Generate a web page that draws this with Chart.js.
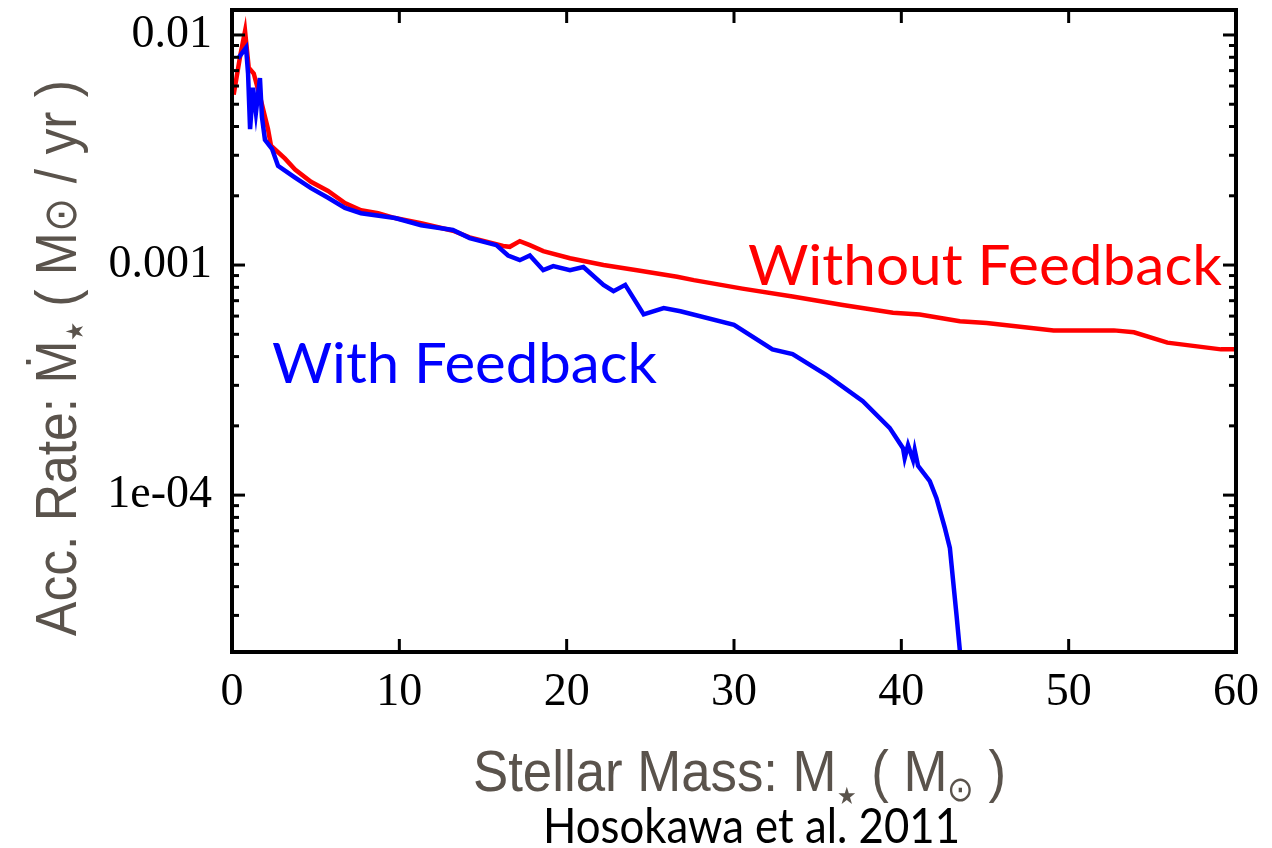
<!DOCTYPE html>
<html>
<head>
<meta charset="utf-8">
<script src="https://cdn.jsdelivr.net/npm/chart.js@4.4.1/dist/chart.umd.min.js"></script>
<style>
  html, body { margin: 0; padding: 0; background: #fff; }
  #wrap { width: 1272px; height: 848px; }
</style>
</head>
<body>
<div id="wrap"><canvas id="accChart" width="1272" height="848"></canvas></div>
<script>
    const fbMass = [
        0.36, 0.84, 0.96, 1.08, 1.26, 1.43, 1.67, 1.79, 1.97, 2.39,
        2.75, 3.77, 4.72, 5.74, 6.75, 7.71, 9.74, 11.3, 13.2, 14.2,
        15.8, 16.5, 17.2, 17.8, 18.6, 19.2, 20.2, 21.0, 22.2, 22.8,
        23.5, 24.6, 25.8, 26.8, 30.0, 32.3, 33.5, 35.6, 37.7, 39.3,
        40.1, 40.2, 40.4, 40.7, 40.8, 41.0, 41.7, 42.1, 42.6, 42.9,
        43.1, 43.3, 43.5
    ];
    const fbRate = [
        0.0079, 0.0088, 0.0068, 0.0039, 0.0059, 0.0046, 0.0065, 0.0044, 0.0035, 0.0032,
        0.0027, 0.0024, 0.00216, 0.00196, 0.00177, 0.00168, 0.0016, 0.00149, 0.00142, 0.00131,
        0.00122, 0.0011, 0.00105, 0.0011, 0.00095, 0.00099, 0.00095, 0.00098, 0.00082, 0.00077,
        0.00082, 0.00061, 0.00065, 0.00063, 0.00055, 0.00043, 0.00041, 0.00033, 0.000256, 0.000196,
        0.00016, 0.000145, 0.000165, 0.000142, 0.000157, 0.000134, 0.000115, 0.000097, 0.000072, 0.000059,
        0.000042, 0.00003, 0.000021
    ];
    const noFbMass = [
        0.1, 0.5, 0.78, 1.0, 1.3, 1.73, 2.15, 2.33, 3.17, 3.77,
        4.72, 5.74, 6.75, 7.71, 8.73, 9.74, 11.3, 13.2, 14.2, 16.2,
        16.6, 17.2, 17.8, 18.6, 20.2, 22.2, 24.2, 26.6, 27.6, 30.5,
        33.5, 36.5, 39.5, 41.1, 43.5, 45.1, 49.1, 52.7, 53.9, 55.9,
        59.1, 60
    ];
    const noFbRate = [
        0.0055, 0.0082, 0.0104, 0.0072, 0.0068, 0.0052, 0.0039, 0.0033, 0.0029, 0.0026,
        0.0023, 0.0021, 0.00186, 0.00173, 0.00168, 0.0016, 0.00152, 0.00141, 0.00132, 0.00121,
        0.0012, 0.00127, 0.00122, 0.00115, 0.00107, 0.001, 0.00095, 0.00089, 0.00086, 0.00079,
        0.00073, 0.00067, 0.00062, 0.00061, 0.00057, 0.00056, 0.00052, 0.00052, 0.00051, 0.00046,
        0.00043, 0.00043
    ];

    const xTicks = [0, 10, 20, 30, 40, 50, 60];
    const yTickVals = [0.01, 0.001, 0.0001];
    const yTickLabels = ['0.01', '0.001', '1e-04'];

    const toPoints = (xs, ys) => xs.map((x, i) => ({ x: x, y: ys[i] }));

    // draw a row of text pieces squeezed to a given width (condensed look)
    function drawPieces(ctx, pieces, size, family, targetW) {
        let w = 0;
        pieces.forEach(p => {
            ctx.font = (size * (p.s || 1)) + 'px ' + family;
            p.w = ctx.measureText(p.t).width;
            w += p.w;
        });
        const k = targetW / w;
        ctx.scale(k, 1);
        let x = 0;
        pieces.forEach(p => {
            ctx.font = (size * (p.s || 1)) + 'px ' + family;
            ctx.fillText(p.t, x, (p.dy || 0) * size);
            x += p.w;
        });
    }

    const framePlugin = {
        id: 'frame',
        afterDatasetsDraw(chart) {
            const { ctx, chartArea: a, scales: { x, y } } = chart;
            ctx.save();
            ctx.strokeStyle = '#000';
            ctx.lineCap = 'butt';
            ctx.lineWidth = 3;
            const seg = (x1, y1, x2, y2) => { ctx.beginPath(); ctx.moveTo(x1, y1); ctx.lineTo(x2, y2); ctx.stroke(); };
            // x ticks, inward on bottom and top
            xTicks.slice(1, -1).forEach(v => {
                const px = x.getPixelForValue(v);
                seg(px, a.bottom, px, a.bottom - 13);
                seg(px, a.top, px, a.top + 13);
            });
            // y ticks (log decades + minors), inward on left and right
            for (let e = -5; e <= -2; e++) {
                for (let m = 1; m <= 9; m++) {
                    const v = m * Math.pow(10, e);
                    if (v < y.min || v > y.max) continue;
                    const py = y.getPixelForValue(v);
                    const len = m === 1 ? 13 : 7;
                    seg(a.left, py, a.left + len, py);
                    seg(a.right, py, a.right - len, py);
                }
            }
            ctx.lineWidth = 4;
            ctx.strokeRect(a.left, a.top, a.right - a.left, a.bottom - a.top);
            ctx.restore();
        },
        afterDraw(chart) {
            const ctx = chart.ctx;
            const titleFont = '"Liberation Sans", Arial, sans-serif';
            ctx.save();
            ctx.fillStyle = '#5a534c';
            ctx.textBaseline = 'alphabetic';
            ctx.textAlign = 'left';

            // y axis title
            ctx.save();
            ctx.translate(76, 636);
            ctx.rotate(-Math.PI / 2);
            drawPieces(ctx, [
                { t: 'Acc. Rate: ' },
                { t: 'Ṁ' },
                { t: '★', s: 0.42, dy: 0.12 },
                { t: ' ( M' },
                { t: '⊙', s: 0.8 },
                { t: ' / yr )' }
            ], 58, titleFont, 556);
            ctx.restore();

            // x axis title
            ctx.save();
            ctx.translate(473, 791);
            drawPieces(ctx, [
                { t: 'Stellar Mass: M' },
                { t: '★', s: 0.42, dy: 0.22 },
                { t: ' ( M' },
                { t: '⊙', s: 0.6, dy: 0.18 },
                { t: ' )' }
            ], 58, titleFont, 533);
            ctx.restore();

            // annotations
            const noteFont = 'Lato, "Open Sans", sans-serif';
            ctx.save();
            ctx.fillStyle = '#ff0000';
            ctx.translate(748, 285);
            drawPieces(ctx, [{ t: 'Without Feedback' }], 56, noteFont, 474);
            ctx.restore();

            ctx.save();
            ctx.fillStyle = '#0000ff';
            ctx.translate(272, 383);
            drawPieces(ctx, [{ t: 'With Feedback' }], 56, noteFont, 385);
            ctx.restore();

            ctx.save();
            ctx.fillStyle = '#000';
            ctx.translate(543, 843);
            drawPieces(ctx, [{ t: 'Hosokawa et al. 2011' }], 48, noteFont, 417);
            ctx.restore();

            ctx.restore();
        }
    };

    const ctx = document.getElementById('accChart').getContext('2d');
    const accChart = new Chart(ctx, {
        type: 'line',
        data: {
            datasets: [{
                label: 'With Feedback',
                data: toPoints(fbMass, fbRate),
                borderColor: '#0000ff',
                borderWidth: 4.5,
                pointRadius: 0,
                fill: false,
                tension: 0
            }, {
                label: 'Without Feedback',
                data: toPoints(noFbMass, noFbRate),
                borderColor: '#ff0000',
                borderWidth: 4.5,
                pointRadius: 0,
                fill: false,
                tension: 0
            }]
        },
        options: {
            responsive: false,
            animation: false,
            devicePixelRatio: 1,
            layout: { padding: { top: 10, right: 36, bottom: 0, left: 0 } },
            plugins: {
                legend: { display: false },
                tooltip: { enabled: false }
            },
            scales: {
                x: {
                    type: 'linear',
                    min: 0,
                    max: 60,
                    afterBuildTicks: s => { s.ticks = xTicks.map(v => ({ value: v })); },
                    ticks: {
                        color: '#000',
                        font: { family: '"Liberation Serif", "Times New Roman", serif', size: 46 },
                        padding: 13,
                        maxRotation: 0
                    },
                    grid: { display: false, drawTicks: false },
                    border: { display: false },
                    afterFit: s => { s.height = 196; s.paddingLeft = 0; s.paddingRight = 0; }
                },
                y: {
                    type: 'logarithmic',
                    min: 2.08e-5,
                    max: 0.01284,
                    ticks: {
                        autoSkip: false,
                        color: '#000',
                        font: { family: '"Liberation Serif", "Times New Roman", serif', size: 46 },
                        padding: 20,
                        callback: v => {
                            const i = yTickVals.findIndex(t => Math.abs(t - v) / t < 1e-6);
                            return i >= 0 ? yTickLabels[i] : '';
                        }
                    },
                    grid: { display: false, drawTicks: false },
                    border: { display: false },
                    afterFit: s => { s.width = 232; s.paddingTop = 0; s.paddingBottom = 0; }
                }
            }
        },
        plugins: [framePlugin]
    });
</script>
</body>
</html>
